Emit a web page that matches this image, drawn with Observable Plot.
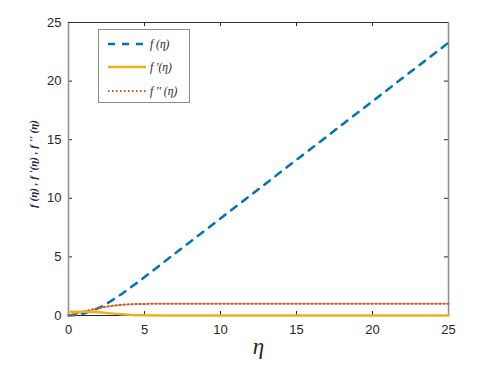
<!DOCTYPE html>
<html>
<head>
<meta charset="utf-8">
<script src="https://cdn.jsdelivr.net/npm/d3@7"></script>
<script src="https://cdn.jsdelivr.net/npm/@observablehq/plot@0.6"></script>
<style>
  body { margin: 0; background: #fff; }
  #wrap { position: relative; width: 480px; height: 373px; }
  #legend { position: absolute; left: 98px; top: 29px; width: 92px; height: 74px;
    border: 1px solid #8a8a8a; background: #fff; box-sizing: border-box; }
  #legend .row { position: absolute; left: 0; height: 16px; width: 100%; }
  #legend svg { position: absolute; left: 8px; top: 0; }
  #legend span { position: absolute; left: 51px; top: 0; line-height: 16px;
    font-family: "Liberation Serif", "DejaVu Serif", serif; font-style: italic; font-size: 11.5px; color: #262626; white-space: pre; }
</style>
</head>
<body>
<div id="wrap"></div>
<script>
// Data
const eta = [0, 0.5, 1, 1.5, 2, 2.5, 3, 3.5, 4, 4.5, 5, 6, 7, 8, 10, 12, 15, 18, 20, 22, 25];
const fValues = [0, 0.04, 0.17, 0.37, 0.65, 1.0, 1.4, 1.84, 2.31, 2.79, 3.28, 4.28, 5.28, 6.28, 8.28, 10.28, 13.28, 16.28, 18.28, 20.28, 23.28];
// yellow solid (legend f'(η))
const fPrimeValues = [0.33, 0.33, 0.32, 0.30, 0.27, 0.22, 0.16, 0.11, 0.06, 0.03, 0.02, 0.002, 0, 0, 0, 0, 0, 0, 0, 0, 0];
// red dotted (legend f''(η))
const fDoublePrimeValues = [0, 0.17, 0.33, 0.49, 0.63, 0.75, 0.85, 0.91, 0.96, 0.98, 0.99, 1.0, 1.0, 1.0, 1.0, 1.0, 1.0, 1.0, 1.0, 1.0, 1.0];
const xTicks = [0, 5, 10, 15, 20, 25];
const yTicks = [0, 5, 10, 15, 20, 25];
const seriesNames = ["f (η)", "f '(η)", "f '' (η)"];
const seriesColors = ["#0072BD", "#EDB120", "#D95319"];
const seriesDash = ["7,7", null, "1.5,2.5"];
const seriesWidth = [2.5, 2.5, 2];
const xLabel = "η";
const yLabel = "f (η) , f '(η) , f '' (η)";

const fData = eta.map((e, i) => ({eta: e, v: fValues[i]}));
const fpData = eta.map((e, i) => ({eta: e, v: fPrimeValues[i]}));
const fppData = eta.map((e, i) => ({eta: e, v: fDoublePrimeValues[i]}));

const W = 480, H = 373, mL = 68, mR = 32, mT = 22, mB = 58;
const fw = W - mL - mR, fh = H - mT - mB;

const chart = Plot.plot({
  width: W, height: H,
  marginLeft: mL, marginRight: mR, marginTop: mT, marginBottom: mB,
  style: {fontFamily: "'Liberation Sans', Arial, sans-serif", fontSize: "13px", color: "#262626", background: "#fff"},
  x: {domain: [0, 25], ticks: xTicks},
  y: {domain: [0, 25], ticks: yTicks},
  marks: [
    Plot.axisX(xTicks, {anchor: "bottom", tickSize: 0, tickPadding: 9, label: null, fontSize: 13}),
    Plot.axisY(yTicks, {anchor: "left", tickSize: 0, tickPadding: 7, label: null, fontSize: 13}),
    // inward ticks
    Plot.ruleX(xTicks, {insetTop: fh - 4, stroke: "#262626"}),
    Plot.ruleX(xTicks, {insetBottom: fh - 4, stroke: "#262626"}),
    Plot.ruleY(yTicks, {insetRight: fw - 4, stroke: "#262626"}),
    Plot.ruleY(yTicks, {insetLeft: fw - 4, stroke: "#262626"}),
    // box
    Plot.ruleX([0, 25], {stroke: "#8c8c8c", strokeWidth: 1.5}),
    Plot.ruleY([25], {stroke: "#333"}),
    Plot.ruleY([0], {stroke: "#262626"}),
    // series
    Plot.line(fData, {x: "eta", y: "v", stroke: seriesColors[0], strokeWidth: seriesWidth[0], strokeDasharray: seriesDash[0]}),
    Plot.line(fppData, {x: "eta", y: "v", stroke: seriesColors[2], strokeWidth: seriesWidth[2], strokeDasharray: seriesDash[2]}),
    Plot.line(fpData, {x: "eta", y: "v", stroke: seriesColors[1], strokeWidth: seriesWidth[1]}),
    // labels
    Plot.text([xLabel], {frameAnchor: "bottom", dy: 38, fontSize: 23, fontStyle: "italic",
      fontFamily: "'Liberation Serif', 'DejaVu Serif', serif", fill: "#262626"}),
    Plot.text([yLabel], {frameAnchor: "left", textAnchor: "middle", dx: -35, dy: -5, rotate: -90, fontSize: 11, fontStyle: "italic", fontWeight: "bold",
      fontFamily: "'Liberation Serif', 'DejaVu Serif', serif", fill: "#262644"})
  ]
});

const wrap = document.getElementById("wrap");
wrap.appendChild(chart);

// legend
const legend = document.createElement("div");
legend.id = "legend";
const rowTops = [6, 29, 53];
seriesNames.forEach((name, i) => {
  const row = document.createElement("div");
  row.className = "row";
  row.style.top = rowTops[i] + "px";
  const dash = seriesDash[i] ? ` stroke-dasharray="${seriesDash[i]}"` : "";
  row.innerHTML = `<svg width="40" height="16"><line x1="1" y1="8" x2="39" y2="8" stroke="${seriesColors[i]}" stroke-width="${seriesWidth[i]}"${dash}/></svg><span>${name}</span>`;
  legend.appendChild(row);
});
wrap.appendChild(legend);
</script>
</body>
</html>
